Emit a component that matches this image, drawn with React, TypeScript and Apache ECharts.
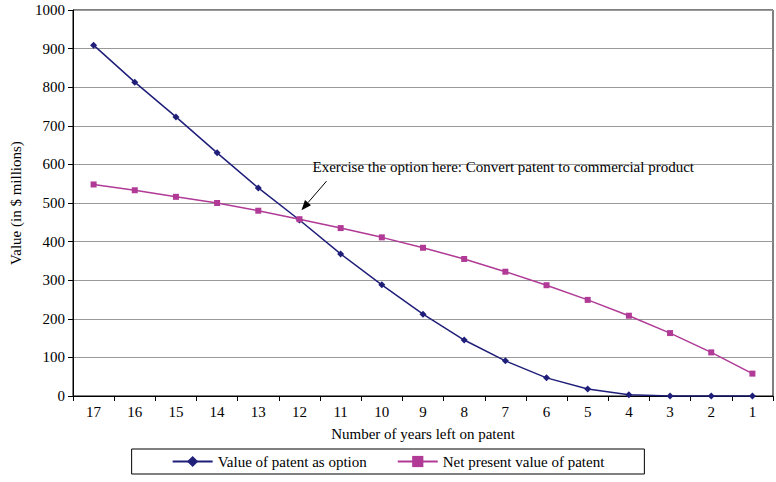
import React, { useEffect, useRef } from "react";
import * as echarts from "echarts";

const years = ["17","16","15","14","13","12","11","10","9","8","7","6","5","4","3","2","1"];
const optionValue = [909,813,723,630,539,456,368,288,212,145,91,47,18,3,0,0,0];
const npvValue = [548,533,516,500,480,458,435,411,384,355,322,287,249,208,163,113,58];

export default function App() {
  const ref = useRef<HTMLDivElement>(null);
  useEffect(() => {
    const chart = echarts.init(ref.current!, null, { renderer: "svg" });
    const font = "Liberation Serif";
    chart.setOption({
      animation: false,
      textStyle: { fontFamily: font, color: "#000" },
      grid: { left: 66, right: 3, top: 10, bottom: 86, show: true, borderColor: "#000", borderWidth: 1 },
      xAxis: {
        type: "category", data: years, boundaryGap: true,
        name: "Number of years left on patent", nameLocation: "middle", nameGap: 30,
        nameTextStyle: { fontFamily: font, fontSize: 15, color: "#000" },
        axisLine: { lineStyle: { color: "#000" } },
        axisTick: { show: true, lineStyle: { color: "#000" } },
        axisLabel: { fontFamily: font, fontSize: 15, color: "#000" },
      },
      yAxis: {
        type: "value", min: 0, max: 1000, interval: 100,
        name: "Value (in $ millions)", nameLocation: "middle", nameGap: 50,
        nameTextStyle: { fontFamily: font, fontSize: 15, color: "#000" },
        axisLine: { show: true, lineStyle: { color: "#000" } },
        axisTick: { show: true, lineStyle: { color: "#000" } },
        axisLabel: { fontFamily: font, fontSize: 15, color: "#000", formatter: (v: number) => String(v) },
        splitLine: { lineStyle: { color: "#999" } },
      },
      legend: {
        bottom: 8, left: "center", itemGap: 30, padding: [5, 40],
        borderColor: "#000", borderWidth: 1, itemWidth: 40,
        textStyle: { fontFamily: font, fontSize: 15, color: "#000" },
      },
      series: [
        { name: "Value of patent as option", type: "line", data: optionValue,
          symbol: "diamond", symbolSize: 7,
          lineStyle: { color: "#1f1f7a", width: 1.5 }, itemStyle: { color: "#1f1f7a" } },
        { name: "Net present value of patent", type: "line", data: npvValue,
          symbol: "rect", symbolSize: 6,
          lineStyle: { color: "#b03a96", width: 1.5 }, itemStyle: { color: "#b03a96" } },
      ],
    });
    const p = chart.convertToPixel({ seriesIndex: 1 }, ["12", npvValue[5]]) as number[];
    const tip = [p[0] + 2, p[1] - 9];
    const tail = [p[0] + 27, p[1] - 38];
    const ang = Math.atan2(tip[1] - tail[1], tip[0] - tail[0]);
    const h = 10, w = 4;
    const bx = tip[0] - h * Math.cos(ang), by = tip[1] - h * Math.sin(ang);
    chart.setOption({
      graphic: [
        { type: "line", shape: { x1: tail[0], y1: tail[1], x2: bx, y2: by }, style: { stroke: "#000", lineWidth: 1 } },
        { type: "polygon", shape: { points: [tip, [bx - w * Math.sin(ang), by + w * Math.cos(ang)], [bx + w * Math.sin(ang), by - w * Math.cos(ang)]] }, style: { fill: "#000" } },
        { type: "text", x: tail[0] - 14, y: tail[1] - 22, style: { text: "Exercise the option here: Convert patent to commercial product", font: `15px "${font}"`, fill: "#000" } },
      ],
    });
    return () => chart.dispose();
  }, []);
  return <div ref={ref} style={{ width: 776, height: 482, position: "absolute", left: 0, top: 0 }} />;
}
